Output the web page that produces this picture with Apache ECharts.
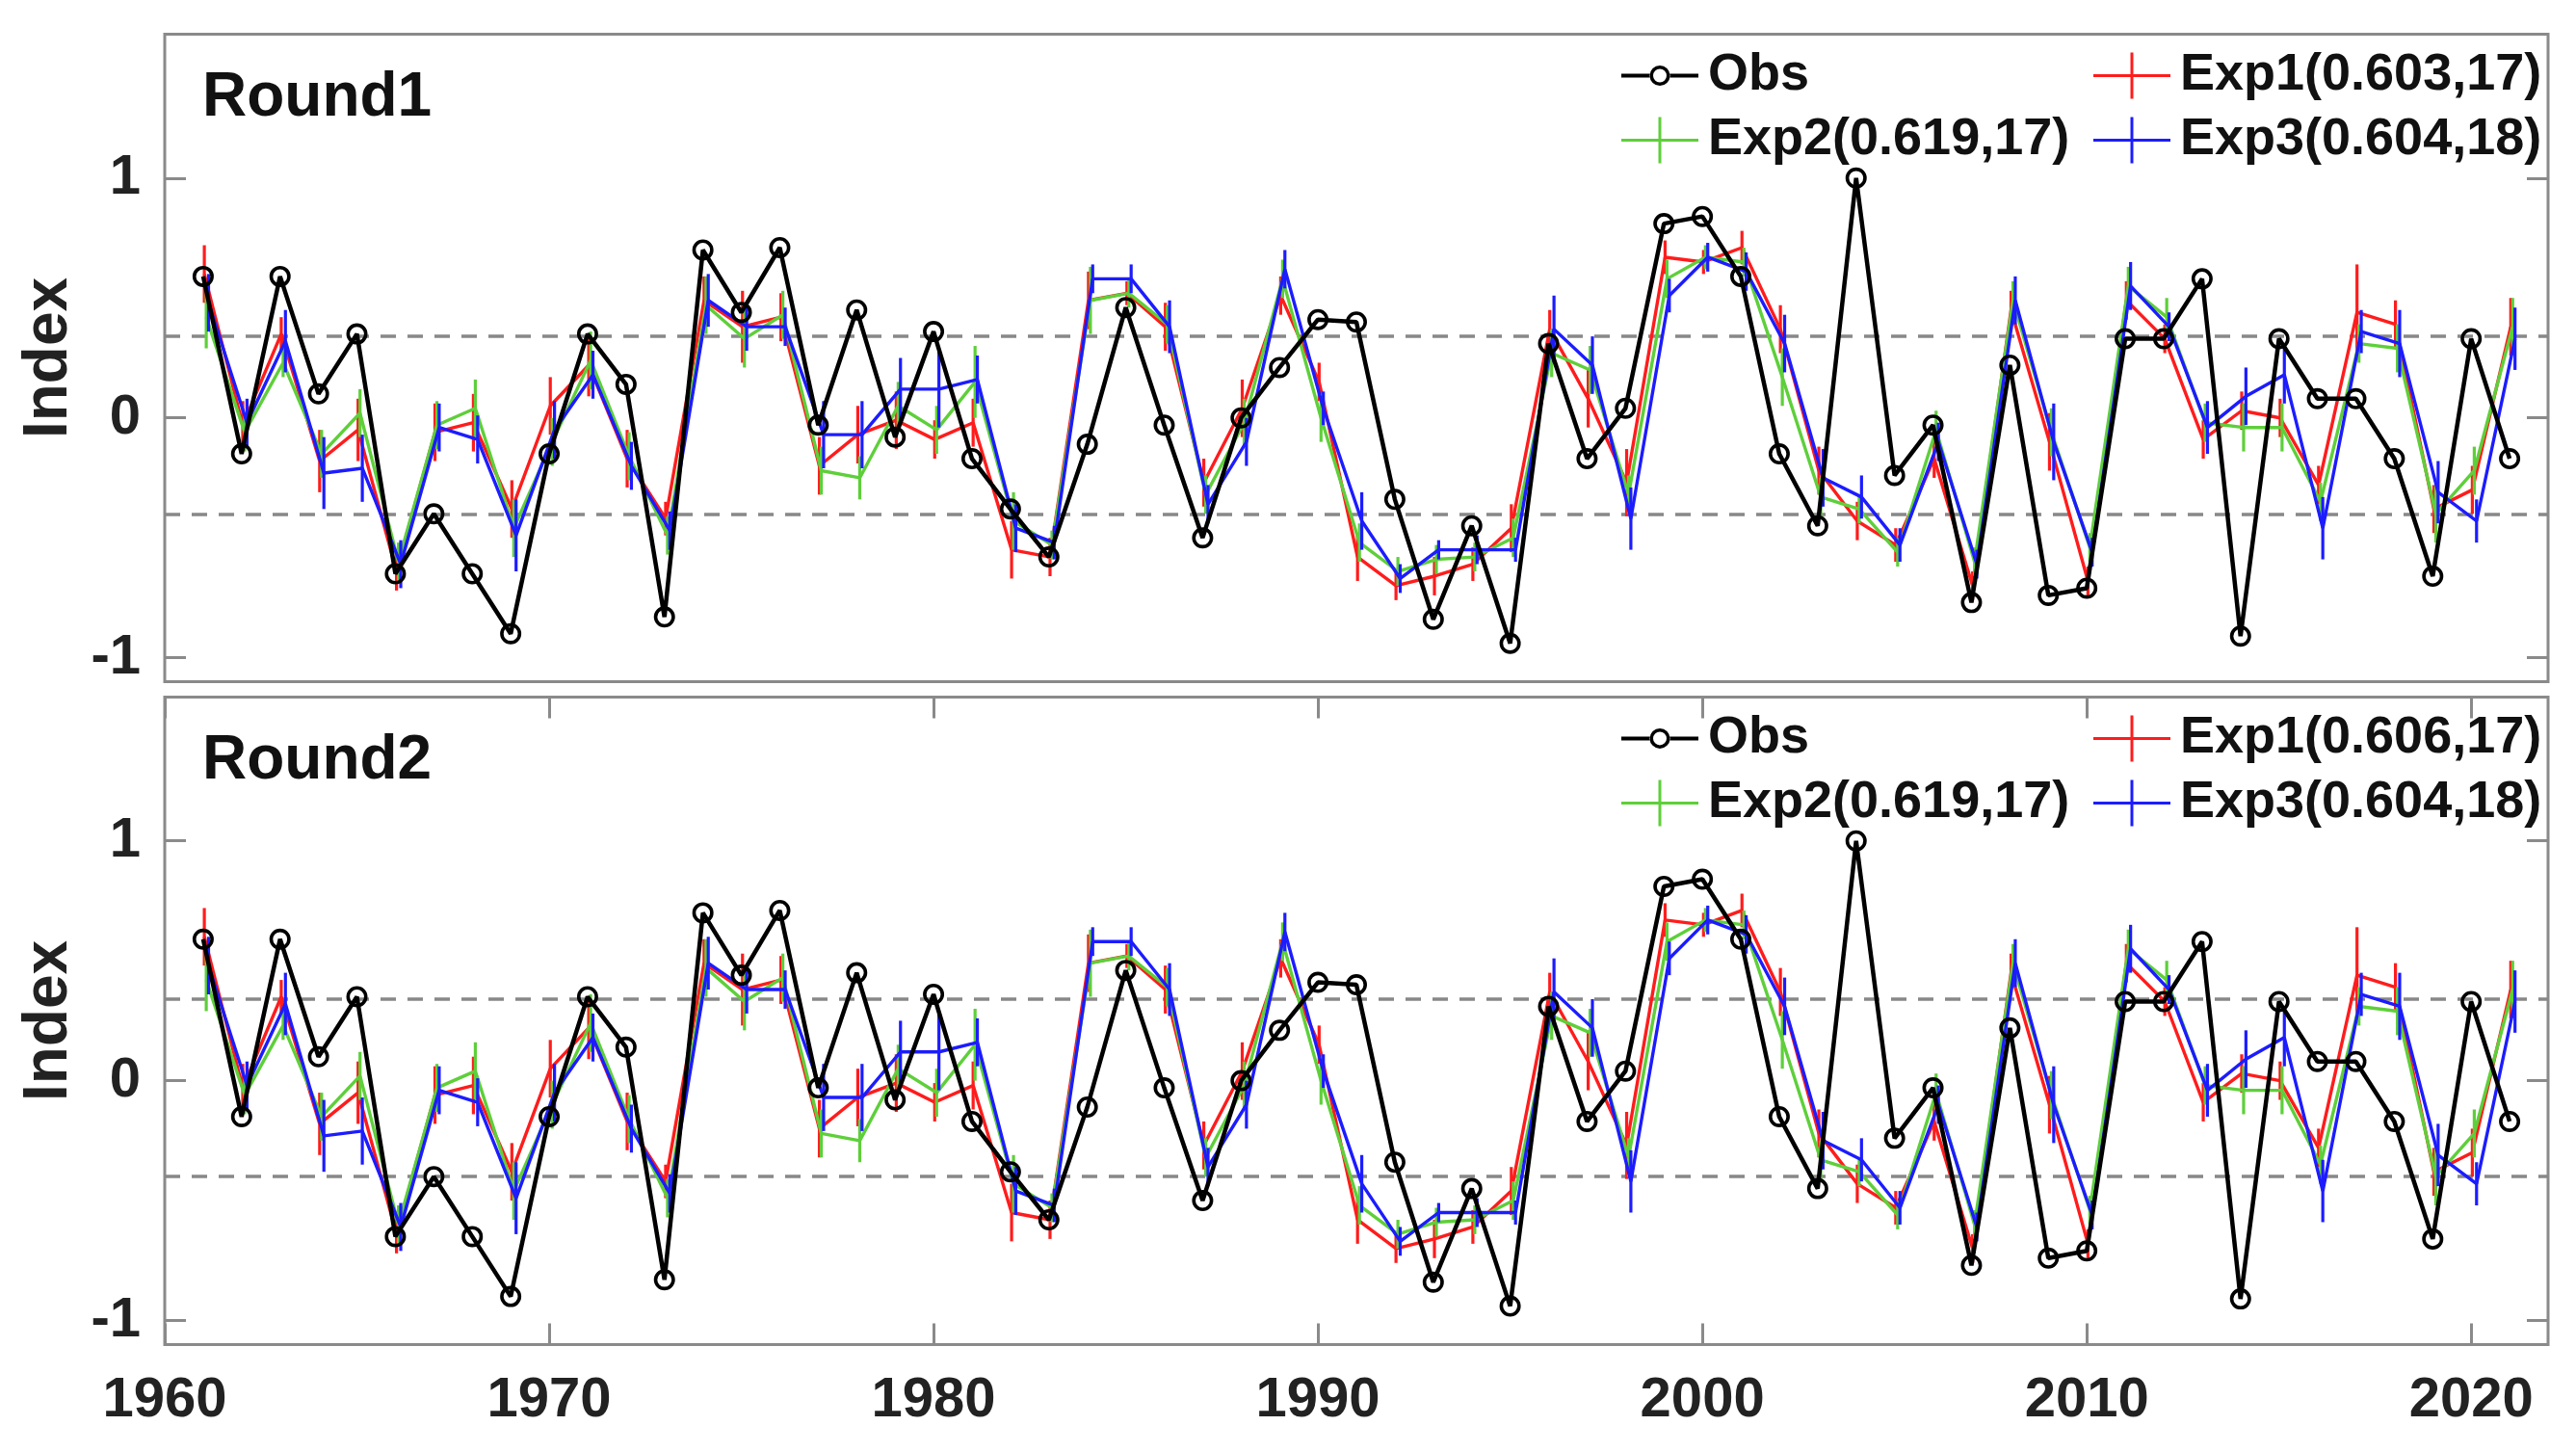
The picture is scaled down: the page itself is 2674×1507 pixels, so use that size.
<!DOCTYPE html>
<html>
<head>
<meta charset="utf-8">
<script src="https://cdn.jsdelivr.net/npm/echarts@6/dist/echarts.min.js"></script>
<style>
html,body{margin:0;padding:0;background:#fff;}
#chart{width:2674px;height:1507px;}
</style>
</head>
<body>
<div id="chart"></div>
<script>
// ---------------- data ----------------
const years = [1961,1962,1963,1964,1965,1966,1967,1968,1969,1970,1971,1972,1973,1974,1975,1976,1977,1978,1979,1980,1981,1982,1983,1984,1985,1986,1987,1988,1989,1990,1991,1992,1993,1994,1995,1996,1997,1998,1999,2000,2001,2002,2003,2004,2005,2006,2007,2008,2009,2010,2011,2012,2013,2014,2015,2016,2017,2018,2019,2020,2021];
const obs = [0.59,-0.15,0.59,0.10,0.35,-0.65,-0.40,-0.65,-0.90,-0.15,0.35,0.14,-0.83,0.70,0.44,0.71,-0.03,0.45,-0.08,0.36,-0.17,-0.38,-0.58,-0.11,0.46,-0.03,-0.50,0.00,0.21,0.41,0.40,-0.34,-0.84,-0.45,-0.94,0.31,-0.17,0.04,0.81,0.84,0.59,-0.15,-0.45,1.00,-0.24,-0.03,-0.77,0.22,-0.74,-0.71,0.33,0.33,0.58,-0.91,0.33,0.08,0.08,-0.17,-0.66,0.33,-0.17];
const exp1 = [0.60,-0.03,0.35,-0.18,-0.05,-0.64,-0.06,-0.02,-0.38,0.05,0.22,-0.17,-0.42,0.49,0.38,0.42,-0.20,-0.07,-0.01,-0.09,-0.02,-0.55,-0.58,0.49,0.52,0.38,-0.27,0.04,0.51,0.15,-0.58,-0.70,-0.66,-0.61,-0.46,0.37,0.08,-0.27,0.67,0.65,0.71,0.37,-0.22,-0.43,-0.53,-0.17,-0.70,0.45,-0.10,-0.68,0.49,0.33,-0.09,0.03,0.00,-0.28,0.44,0.39,-0.38,-0.30,0.38];
const exp2 = [0.42,-0.06,0.23,-0.15,0.02,-0.60,-0.03,0.04,-0.46,-0.10,0.24,-0.16,-0.49,0.47,0.33,0.43,-0.22,-0.25,0.05,-0.05,0.15,-0.43,-0.53,0.49,0.52,0.39,-0.32,-0.02,0.58,0.00,-0.52,-0.64,-0.59,-0.58,-0.50,0.27,0.20,-0.32,0.58,0.67,0.65,0.17,-0.33,-0.38,-0.56,-0.05,-0.60,0.49,-0.06,-0.54,0.55,0.42,-0.02,-0.04,-0.04,-0.35,0.31,0.29,-0.40,-0.22,0.38];
const exp3 = [0.48,-0.02,0.32,-0.23,-0.21,-0.61,-0.04,-0.09,-0.49,-0.05,0.18,-0.20,-0.47,0.49,0.38,0.38,-0.07,-0.07,0.12,0.12,0.16,-0.46,-0.52,0.58,0.58,0.38,-0.36,-0.10,0.62,0.04,-0.43,-0.67,-0.55,-0.55,-0.55,0.37,0.22,-0.42,0.51,0.67,0.61,0.31,-0.25,-0.33,-0.53,-0.10,-0.61,0.49,-0.10,-0.56,0.55,0.38,-0.04,0.09,0.18,-0.46,0.36,0.31,-0.31,-0.43,0.33];
const err1 = [0.12,0.10,0.07,0.13,0.13,0.08,0.12,0.12,0.12,0.12,0.13,0.12,0.07,0.10,0.15,0.10,0.12,0.12,0.12,0.08,0.10,0.12,0.08,0.12,0.05,0.10,0.10,0.12,0.08,0.08,0.10,0.06,0.08,0.07,0.10,0.08,0.12,0.14,0.07,0.05,0.07,0.10,0.10,0.08,0.07,0.08,0.06,0.08,0.12,0.06,0.08,0.06,0.08,0.08,0.08,0.08,0.20,0.10,0.10,0.10,0.12];
const err2 = [0.13,0.08,0.06,0.10,0.10,0.08,0.10,0.12,0.12,0.10,0.12,0.10,0.08,0.12,0.12,0.10,0.10,0.09,0.10,0.10,0.15,0.12,0.06,0.14,0.06,0.08,0.08,0.10,0.08,0.10,0.08,0.06,0.06,0.06,0.08,0.10,0.10,0.08,0.08,0.05,0.06,0.12,0.08,0.06,0.06,0.08,0.06,0.08,0.10,0.06,0.08,0.08,0.08,0.10,0.10,0.08,0.08,0.10,0.12,0.10,0.12];
const err3 = [0.12,0.10,0.13,0.15,0.14,0.10,0.10,0.10,0.15,0.12,0.10,0.10,0.08,0.11,0.10,0.08,0.14,0.14,0.13,0.16,0.10,0.10,0.07,0.06,0.06,0.11,0.08,0.10,0.08,0.07,0.12,0.06,0.04,0.06,0.05,0.14,0.12,0.13,0.07,0.06,0.08,0.12,0.12,0.09,0.07,0.08,0.06,0.10,0.16,0.06,0.10,0.06,0.11,0.12,0.12,0.13,0.09,0.14,0.13,0.09,0.13];
const refLines = [0.34, -0.40];
const panelTitles = ['Round1', 'Round2'];
const exp1Names = ['Exp1(0.603,17)', 'Exp1(0.606,17)'];
const exp2Name = 'Exp2(0.619,17)';
const exp3Name = 'Exp3(0.604,18)';
const xTicks = [1960,1970,1980,1990,2000,2010,2020];
const yTicks = [-1,0,1];

// ---------------- style ----------------
const FONT = '"Liberation Sans", Arial, Helvetica, sans-serif';
const C_RED = '#ff1c1c', C_GRN = '#5ecf3a', C_BLU = '#1c1cff', C_OBS = '#000000';
const FRAME = '#8a8a8a';
const GRID_L = 171, GRID_W = 2474, GRID_H = 672;
const GRID_TOPS = [35.5, 723.4];
const X_MIN = 1960, X_MAX = 2022, Y_MIN = -1.1, Y_MAX = 1.6;
const OFFS = [0.03, 0.08, 0.14];

const RING = 'path://M0,11 a11,11 0 1,0 22,0 a11,11 0 1,0 -22,0 Z M3.6,11 a7.4,7.4 0 1,1 14.8,0 a7.4,7.4 0 1,1 -14.8,0 Z';
const OBS_ICON = 'path://M0,22 h30 v4 h-30 Z M50,22 h30 v4 h-30 Z M29.5,24 a10.5,10.5 0 1,0 21,0 a10.5,10.5 0 1,0 -21,0 Z M33,24 a7,7 0 1,1 14,0 a7,7 0 1,1 -14,0 Z';
const EXP_ICON = 'path://M0,22.5 h80 v3 h-80 Z M38.5,0 h3 v48 h-3 Z';

const grids = GRID_TOPS.map(t => ({left: GRID_L, top: t, width: GRID_W, height: GRID_H, show: true, borderColor: FRAME, borderWidth: 3, backgroundColor: 'transparent', containLabel: false}));

const xAxes = [], yAxes = [];
const tickStyle = {show: true, inside: true, length: 22, lineStyle: {color: FRAME, width: 3}};
const noLine = {show: false, onZero: false};
for (let p = 0; p < 2; p++) {
  xAxes.push({
    gridIndex: p, type: 'value', position: 'bottom', min: X_MIN, max: X_MAX,
    axisLine: noLine, splitLine: {show: false},
    axisTick: p === 1 ? Object.assign({customValues: xTicks}, tickStyle) : {show: false},
    axisLabel: p === 1 ? {show: true, customValues: xTicks, margin: 30, fontSize: 58, fontWeight: 'bold', color: '#222', fontFamily: FONT, formatter: v => String(v)} : {show: false}
  });
  xAxes.push({
    gridIndex: p, type: 'value', position: 'top', min: X_MIN, max: X_MAX,
    axisLine: noLine, splitLine: {show: false},
    axisTick: p === 1 ? Object.assign({customValues: xTicks}, tickStyle) : {show: false},
    axisLabel: {show: false}
  });
  yAxes.push({
    gridIndex: p, type: 'value', position: 'left', min: Y_MIN, max: Y_MAX,
    name: 'Index', nameLocation: 'middle', nameRotate: 90, nameGap: 82,
    nameTextStyle: {fontSize: 64, fontWeight: 'bold', color: '#222', fontFamily: FONT},
    axisLine: noLine, splitLine: {show: false},
    axisTick: Object.assign({customValues: yTicks}, tickStyle),
    axisLabel: {show: true, customValues: yTicks, margin: 25, fontSize: 58, fontWeight: 'bold', color: '#222', fontFamily: FONT, formatter: v => String(v)}
  });
  yAxes.push({
    gridIndex: p, type: 'value', position: 'right', min: Y_MIN, max: Y_MAX,
    axisLine: noLine, splitLine: {show: false},
    axisTick: Object.assign({customValues: yTicks}, tickStyle),
    axisLabel: {show: false}
  });
}

function pairs(vals, off) { return years.map((y, i) => [y + off, vals[i]]); }
function triples(vals, errs, off) { return years.map((y, i) => [y + off, vals[i], errs[i]]); }
function errRender(color) {
  return function (params, api) {
    const x = api.value(0), v = api.value(1), e = api.value(2);
    const a = api.coord([x, v - e]), b = api.coord([x, v + e]);
    return {type: 'line', shape: {x1: a[0], y1: a[1], x2: b[0], y2: b[1]}, style: {stroke: color, lineWidth: 3.2}};
  };
}

const series = [];
const legends = [];
for (let p = 0; p < 2; p++) {
  const xi = p * 2, yi = p * 2;
  const exps = [
    {name: exp1Names[p], vals: exp1, errs: err1, color: C_RED, off: OFFS[0]},
    {name: exp2Name, vals: exp2, errs: err2, color: C_GRN, off: OFFS[1]},
    {name: exp3Name, vals: exp3, errs: err3, color: C_BLU, off: OFFS[2]}
  ];
  exps.forEach((e, k) => {
    series.push({
      type: 'line', name: e.name, xAxisIndex: xi, yAxisIndex: yi,
      data: pairs(e.vals, e.off), symbol: 'none', showSymbol: false,
      lineStyle: {color: e.color, width: 3.4}, itemStyle: {color: e.color},
      z: 3 + k, animation: false
    });
    series.push({
      type: 'custom', name: 'err' + (k + 1) + '_' + p, xAxisIndex: xi, yAxisIndex: yi,
      data: triples(e.vals, e.errs, e.off), renderItem: errRender(e.color),
      encode: {x: 0, y: 1}, z: 3 + k, animation: false, silent: true
    });
  });
  series.push({
    type: 'line', name: 'Obs', xAxisIndex: xi, yAxisIndex: yi,
    data: pairs(obs, 0), symbol: RING, symbolSize: 22, showAllSymbol: true,
    lineStyle: {color: C_OBS, width: 4.5}, itemStyle: {color: C_OBS},
    z: 10, animation: false,
    markLine: {
      silent: true, symbol: 'none', label: {show: false},
      lineStyle: {color: '#888888', type: [16, 12], width: 3.5},
      data: refLines.map(v => ({yAxis: v})), z: 1, animation: false
    }
  });
  const lt = GRID_TOPS[p] + 6;
  const txt = {fontSize: 54, fontWeight: 'bold', color: '#111', fontFamily: FONT, lineHeight: 64, padding: [0, 0, 0, 5]};
  legends.push({
    orient: 'vertical', left: 1678, top: lt, itemWidth: 80, itemHeight: 48, itemGap: 3,
    symbolKeepAspect: true, textStyle: txt, selectedMode: false,
    data: [
      {name: 'Obs', icon: OBS_ICON, itemStyle: {color: C_OBS, borderWidth: 0}},
      {name: exp2Name, icon: EXP_ICON, itemStyle: {color: C_GRN, borderWidth: 0}}
    ]
  });
  legends.push({
    orient: 'vertical', left: 2168, top: lt, itemWidth: 80, itemHeight: 48, itemGap: 3,
    symbolKeepAspect: true, textStyle: txt, selectedMode: false,
    data: [
      {name: exp1Names[p], icon: EXP_ICON, itemStyle: {color: C_RED, borderWidth: 0}},
      {name: exp3Name, icon: EXP_ICON, itemStyle: {color: C_BLU, borderWidth: 0}}
    ]
  });
}

const graphics = panelTitles.map((t, p) => ({
  type: 'text', x: 210, y: GRID_TOPS[p] + 67,
  style: {text: t, fontSize: 64, fontWeight: 'bold', fill: '#111', fontFamily: FONT, verticalAlign: 'middle', align: 'left'}
}));

const chart = echarts.init(document.getElementById('chart'), null, {renderer: 'canvas'});
chart.setOption({
  backgroundColor: '#ffffff',
  animation: false,
  grid: grids,
  xAxis: xAxes,
  yAxis: yAxes,
  legend: legends,
  graphic: graphics,
  series: series
});
</script>
</body>
</html>
